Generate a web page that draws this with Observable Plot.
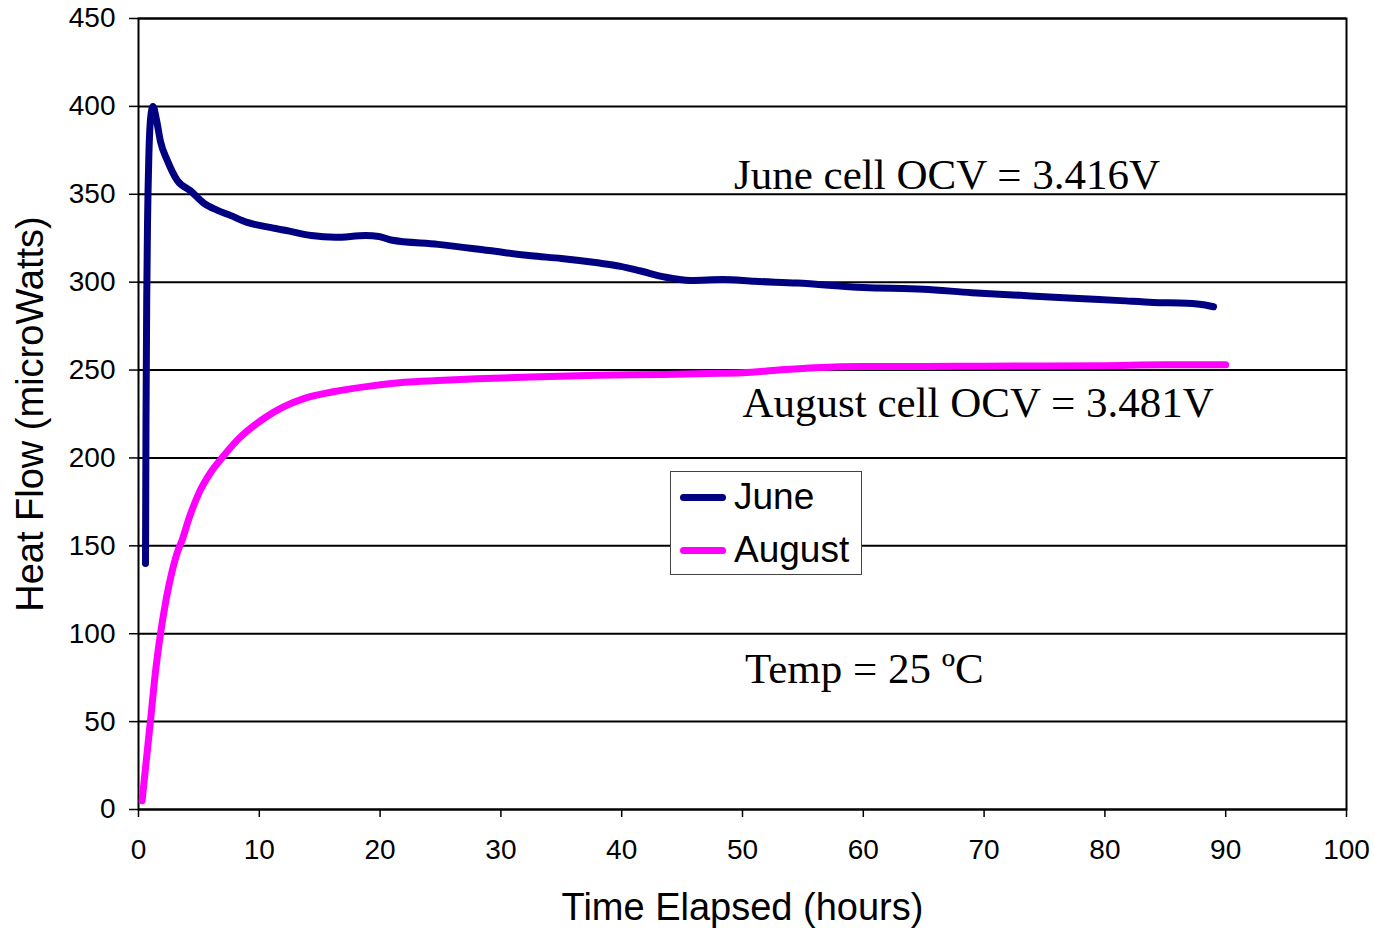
<!DOCTYPE html>
<html>
<head>
<meta charset="utf-8">
<script src="https://cdn.jsdelivr.net/npm/d3@7"></script>
<script src="https://cdn.jsdelivr.net/npm/@observablehq/plot@0.6"></script>
<style>
  body { margin: 0; background: white; }
  #wrap { position: relative; width: 1374px; height: 929px; }
  #wrap svg { font-family: "Liberation Sans", Arial, sans-serif; }
  #wrap svg g[aria-label="y-axis label"],
  #wrap svg g[aria-label="x-axis label"] { font-size: 38px; }
  #legend {
    position: absolute; left: 670px; top: 471px; width: 190px; height: 102px;
    border: 1px solid #444; background: white;
    font-family: "Liberation Sans", Arial, sans-serif; font-size: 37px; color: black;
  }
  .row { position: absolute; left: 9px; height: 40px; display: flex; align-items: center; }
  .sw { width: 46px; height: 7px; border-radius: 3.5px; margin-right: 8px; }
</style>
</head>
<body>
<div id="wrap"></div>
<script>
// June series (hours, microWatts)
const juneHours = [0.58,0.62,0.68,0.75,0.85,1.0,1.2,1.5,1.82,2.4,3.2,4.3,5.4,6.5,7.6,9,11,12.5,14.3,16.3,18.8,19.9,20.9,24.8,29,32.5,35,38,39.9,41.5,43.5,45.7,48.4,51,54.5,60,65,69,73,77,81.3,84,86.8,88.3,89];
const juneFlow  = [140,220,290,335,370,393,400,392,380,369,358,352,345,341,338,334,331,329,326.5,325.5,326.5,326,324,321.5,318,315,313.5,311,309,306.5,303,301,301.5,300.5,299.5,297,296,294,292.5,291,289.5,288.5,288,287,286];
// August series
const augHours = [0.3,0.6,1.0,1.4,1.82,2.3,2.8,3.3,3.6,4.2,5.0,6.0,6.9,8.3,10.5,12,13.8,16,19.3,22,24.8,28,32.4,38,43.5,47,50,53,56,60,65,70,75,80,85,90];
const augFlow  = [5,25,51,78,100,120,136,148,153,166,180,192,200,211,223,229,234,237.5,241,243,244,245,246,247,247.5,248,248.5,250,251.3,252,252,252.2,252.3,252.5,253,253];

const seriesNames = ["June", "August"];
const seriesColors = ["#000080", "#FF00FF"];
const xTicks = [0,10,20,30,40,50,60,70,80,90,100];
const yTicks = [0,50,100,150,200,250,300,350,400,450];
const notes = ["June cell OCV = 3.416V", "August cell OCV = 3.481V", "Temp = 25 ºC"];
const noteX = [49.3, 50.0, 50.2];
const noteY = [361, 231, 80];

const rows = [
  ...juneHours.map((h, i) => ({series: "June", h, v: juneFlow[i]})),
  ...augHours.map((h, i) => ({series: "August", h, v: augFlow[i]}))
];
const noteData = notes.map((t, i) => ({t, x: noteX[i], y: noteY[i]}));

const chart = Plot.plot({
  width: 1374,
  height: 929,
  marginLeft: 138,
  marginRight: 28,
  marginTop: 18,
  marginBottom: 120,
  style: {fontSize: "28px", fontFamily: "Liberation Sans, Arial, sans-serif", background: "white", color: "black"},
  x: {domain: [0, 100]},
  y: {domain: [0, 450]},
  color: {domain: seriesNames, range: seriesColors},
  marks: [
    Plot.gridY(yTicks, {stroke: "black", strokeOpacity: 1, strokeWidth: 2}),
    Plot.frame({stroke: "black", strokeWidth: 2}),
    Plot.axisY(yTicks, {tickSize: 9, tickPadding: 14, strokeWidth: 1.5, label: "Heat Flow (microWatts)", labelArrow: "none", labelAnchor: "center", labelOffset: 122}),
    Plot.axisX(xTicks, {tickSize: 8, tickPadding: 22, strokeWidth: 1.5, label: "Time Elapsed (hours)", labelArrow: "none", labelAnchor: "center", labelOffset: 110}),
    Plot.line(rows, {x: "h", y: "v", z: "series", stroke: "series", strokeWidth: 7, curve: "monotone-x", strokeLinejoin: "round", strokeLinecap: "round"}),
    Plot.text(noteData, {x: "x", y: "y", text: "t", textAnchor: "start", lineAnchor: "middle", fontFamily: "Liberation Serif, Times New Roman, serif", fontSize: 43, fill: "black"})
  ]
});
document.getElementById("wrap").appendChild(chart);

// Legend (HTML overlay)
const legend = document.createElement("div");
legend.id = "legend";
seriesNames.forEach((name, i) => {
  const row = document.createElement("div");
  row.className = "row";
  row.style.top = (i === 0 ? 5 : 58) + "px";
  const sw = document.createElement("div");
  sw.className = "sw";
  sw.style.background = seriesColors[i];
  const lab = document.createElement("span");
  lab.textContent = name;
  row.appendChild(sw); row.appendChild(lab);
  legend.appendChild(row);
});
document.getElementById("wrap").appendChild(legend);
</script>
</body>
</html>
